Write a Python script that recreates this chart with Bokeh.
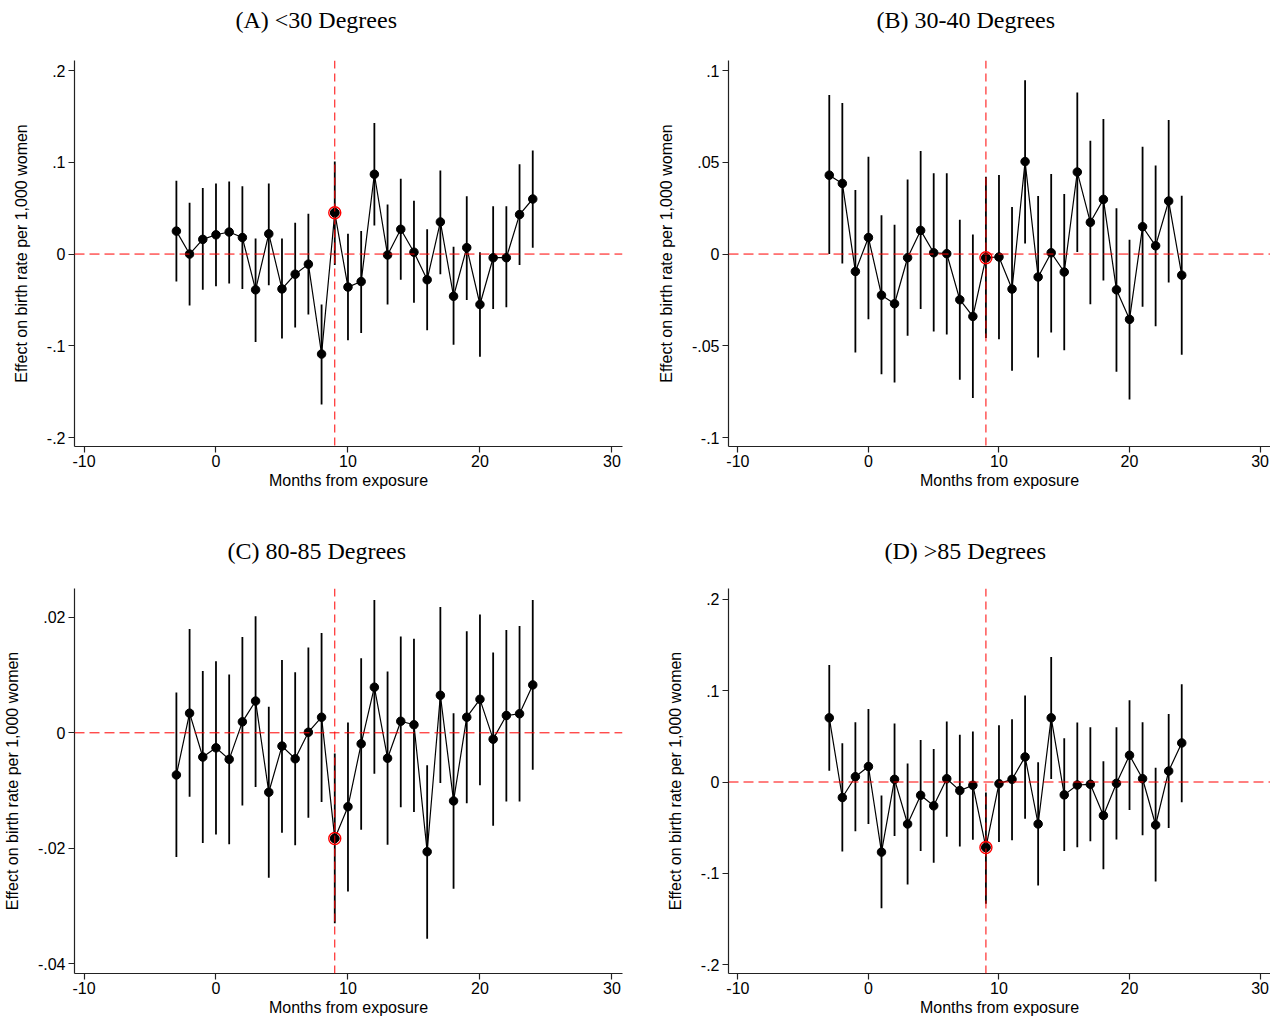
from bokeh.plotting import figure
from bokeh.layouts import gridplot
from bokeh.models import Span, FixedTicker, Range1d, LinearAxis, Title
from bokeh.embed import file_html
from bokeh.resources import INLINE

months = list(range(-3, 25))
event_month = 9

a_title = "(A)  <30 Degrees"
a_est = [0.025, 0.000, 0.016, 0.021, 0.024, 0.018, -0.039, 0.022, -0.038, -0.022, -0.011, -0.109, 0.045, -0.036,
         -0.030, 0.087, -0.001, 0.027, 0.002, -0.028, 0.035, -0.046, 0.007, -0.055, -0.004, -0.004, 0.043, 0.060]
a_hi = [0.080, 0.056, 0.072, 0.077, 0.079, 0.074, 0.017, 0.077, 0.017, 0.034, 0.044, -0.055, 0.101, 0.022,
        0.025, 0.143, 0.054, 0.082, 0.058, 0.027, 0.091, 0.008, 0.063, 0.002, 0.052, 0.052, 0.098, 0.113]
a_lo = [-0.030, -0.056, -0.039, -0.035, -0.032, -0.038, -0.096, -0.034, -0.092, -0.080, -0.066, -0.164, -0.012, -0.094,
        -0.086, 0.031, -0.055, -0.028, -0.053, -0.083, -0.022, -0.099, -0.050, -0.112, -0.060, -0.058, -0.012, 0.007]
a_yticks = [-0.2, -0.1, 0.0, 0.1, 0.2]
a_ylabels = ["-.2", "-.1", "0", ".1", ".2"]

b_title = "(B)  30-40 Degrees"
b_est = [0.043, 0.0385, -0.0095, 0.009, -0.0224, -0.0271, -0.002, 0.0129, 0.0007, 0.0002, -0.0249, -0.034, -0.002, -0.0016,
         -0.0191, 0.0504, -0.0125, 0.0007, -0.0098, 0.0447, 0.0173, 0.0298, -0.0195, -0.0356, 0.0149, 0.0045, 0.0289, -0.0115]
b_hi = [0.0867, 0.0824, 0.0349, 0.0531, 0.0211, 0.016, 0.0407, 0.0562, 0.044, 0.044, 0.0187, 0.0107, 0.0422, 0.0431,
        0.0256, 0.0947, 0.0316, 0.0436, 0.0327, 0.088, 0.0618, 0.0736, 0.0249, 0.0078, 0.0585, 0.0482, 0.0731, 0.0318]
b_lo = [0.0, -0.0051, -0.0536, -0.0355, -0.0655, -0.07, -0.0445, -0.03, -0.0422, -0.0438, -0.0685, -0.0784, -0.0458, -0.0464,
        -0.0636, 0.0058, -0.0564, -0.0427, -0.0525, 0.0011, -0.0273, -0.0144, -0.0642, -0.0793, -0.0287, -0.0393, -0.0155, -0.0549]
b_yticks = [-0.1, -0.05, 0.0, 0.05, 0.1]
b_ylabels = ["-.1", "-.05", "0", ".05", ".1"]

c_title = "(C)  80-85 Degrees"
c_est = [-0.0073, 0.0034, -0.0042, -0.0026, -0.0046, 0.0019, 0.0055, -0.0103, -0.0023, -0.0045, 0.0001, 0.0027, -0.0183, -0.0128,
         -0.0019, 0.0079, -0.0044, 0.0020, 0.0014, -0.0206, 0.0065, -0.0118, 0.0027, 0.0058, -0.0011, 0.0030, 0.0033, 0.0083]
c_hi = [0.0070, 0.0180, 0.0107, 0.0124, 0.0101, 0.0166, 0.0202, 0.0045, 0.0126, 0.0105, 0.0148, 0.0173, -0.0036, 0.0018,
        0.0129, 0.0230, 0.0106, 0.0167, 0.0163, -0.0056, 0.0218, 0.0034, 0.0176, 0.0205, 0.0139, 0.0178, 0.0185, 0.0230]
c_lo = [-0.0215, -0.0111, -0.0191, -0.0176, -0.0193, -0.0126, -0.0094, -0.0251, -0.0173, -0.0195, -0.0147, -0.0120, -0.0330, -0.0275,
        -0.0168, -0.0071, -0.0194, -0.0129, -0.0137, -0.0357, -0.0087, -0.0270, -0.0122, -0.0091, -0.0161, -0.0119, -0.0119, -0.0064]
c_yticks = [-0.04, -0.02, 0.0, 0.02]
c_ylabels = ["-.04", "-.02", "0", ".02"]

d_title = "(D)  >85 Degrees"
d_est = [0.0703, -0.017, 0.0058, 0.017, -0.0768, 0.0029, -0.046, -0.0145, -0.0261, 0.0036, -0.0094, -0.0036, -0.0717, -0.0018,
         0.0029, 0.0275, -0.046, 0.0703, -0.0141, -0.0033, -0.0025, -0.0366, -0.0014, 0.0293, 0.0036, -0.0471, 0.012, 0.0428]
d_hi = [0.1283, 0.0424, 0.0656, 0.0801, -0.0149, 0.0641, 0.0203, 0.046, 0.0362, 0.0663, 0.0518, 0.0554, -0.0116, 0.0623,
        0.0688, 0.0949, 0.0217, 0.137, 0.0478, 0.0652, 0.0601, 0.0228, 0.0601, 0.0895, 0.0656, 0.0156, 0.0746, 0.1072]
d_lo = [0.0123, -0.0761, -0.054, -0.046, -0.1384, -0.0591, -0.1123, -0.0757, -0.0884, -0.0601, -0.0707, -0.0634, -0.1333, -0.0656,
        -0.0638, -0.0402, -0.1134, 0.0033, -0.0757, -0.0714, -0.0649, -0.0957, -0.063, -0.0308, -0.0583, -0.1091, -0.0504, -0.0221]
d_yticks = [-0.2, -0.1, 0.0, 0.1, 0.2]
d_ylabels = ["-.2", "-.1", "0", ".1", ".2"]

x_ticks = [-10, 0, 10, 20, 30]
x_tick_labels = ["-10", "0", "10", "20", "30"]
x_label = "Months from exposure"
y_label = "Effect on birth rate per 1,000 women"

SANS = "Liberation Sans"
SERIF = "Liberation Serif"
RED = "red"
X_START, X_END = -10.72, 30.8


def panel(title, est, lo, hi, yticks, ylabels, yr, border_left, frame_w, border_right,
          border_top, frame_h, border_bottom, title_offset, title_gap):
    p = figure(output_backend="svg", toolbar_location=None, title=None,
               frame_width=frame_w, frame_height=frame_h,
               min_border_left=border_left, min_border_right=border_right,
               min_border_top=border_top, min_border_bottom=border_bottom,
               x_range=Range1d(X_START, X_END), y_range=Range1d(*yr),
               background_fill_color="white", border_fill_color="white")
    p.outline_line_color = None
    p.grid.visible = False

    xax = p.below[0]
    yax = p.left[0]
    for ax in (xax, yax):
        ax.axis_line_color = "#222222"
        ax.axis_line_width = 1.2
        ax.major_tick_line_color = "#222222"
        ax.major_tick_line_width = 1.2
        ax.major_tick_out = 6
        ax.major_tick_in = 0
        ax.minor_tick_line_color = None
        ax.major_label_text_font = SANS
        ax.major_label_text_font_size = "16px"
        ax.major_label_text_color = "black"
        ax.axis_label_text_font = SANS
        ax.axis_label_text_font_size = "16px"
        ax.axis_label_text_font_style = "normal"
        ax.axis_label_text_color = "black"

    xax.ticker = FixedTicker(ticks=x_ticks)
    xax.major_label_overrides = {t: l for t, l in zip(x_ticks, x_tick_labels)}
    xax.axis_label = x_label
    xax.major_label_standoff = 2
    xax.axis_label_standoff = 2

    yax.ticker = FixedTicker(ticks=yticks)
    yax.major_label_overrides = {t: l for t, l in zip(yticks, ylabels)}
    yax.axis_label = y_label
    yax.major_label_standoff = 3
    yax.axis_label_standoff = 14

    # invisible spacer between the frame and the panel title: a blank axis whose
    # (white, single-space) label reserves title_gap pixels of height
    spacer = LinearAxis(ticker=FixedTicker(ticks=[]), axis_line_color=None,
                        major_tick_line_color=None, minor_tick_line_color=None,
                        major_tick_out=0, major_tick_in=0,
                        axis_label=" ", axis_label_text_color="white",
                        axis_label_text_font_size="2px",
                        axis_label_standoff=title_gap)
    p.add_layout(spacer, "above")
    p.add_layout(Title(text=title, text_font=SERIF, text_font_size="24px",
                       text_font_style="normal", text_color="black",
                       align="left", offset=title_offset, standoff=8), "above")

    p.add_layout(Span(location=0, dimension="width", line_color=RED,
                      line_width=1, line_dash="10 5"))
    p.add_layout(Span(location=event_month, dimension="height", line_color=RED,
                      line_width=1, line_dash="8 5"))

    p.segment(x0=months, y0=lo, x1=months, y1=hi, line_color="black", line_width=1.8)
    p.line(months, est, line_color="black", line_width=1.2)
    p.scatter(months, est, size=8.5, fill_color="black", line_color="black")

    i = months.index(event_month)
    p.scatter([months[i]], [est[i]], size=12, fill_color=None, line_color="red", line_width=1.4)
    p.scatter([months[i]], [est[i]], size=8.5, fill_color="black", line_color="black")
    return p


# column 1: left border 64, frame 548, right border 10 ; column 2: left border 96, frame 542
pa = panel(a_title, a_est, a_lo, a_hi, a_yticks, a_ylabels, (-0.2098, 0.211),
           64, 548, 10, 58, 386, 45, 161, 19)
pb = panel(b_title, b_est, b_lo, b_hi, b_yticks, b_ylabels, (-0.1049, 0.1055),
           96, 542, 0, 58, 386, 45, 148, 19)
pc = panel(c_title, c_est, c_lo, c_hi, c_yticks, c_ylabels, (-0.0417, 0.025),
           64, 548, 10, 97, 385, 44, 153, 16)
pd = panel(d_title, d_est, d_lo, d_hi, d_yticks, d_ylabels, (-0.2098, 0.212),
           96, 542, 0, 97, 385, 44, 156, 16)

grid = gridplot([[pa, pb], [pc, pd]], toolbar_location=None)

open("out.html", "w").write(file_html(grid, INLINE))
